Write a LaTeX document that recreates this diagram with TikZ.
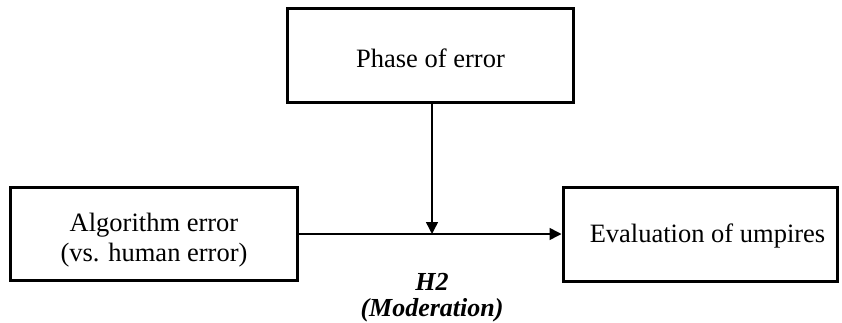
\documentclass[tikz,border=0pt]{standalone}
\usepackage{fontspec}
\setmainfont{Liberation Serif}
\usetikzlibrary{arrows.meta}
\newcommand{\nudge}[2]{\raisebox{-#1}[\height][\depth]{\begin{tabular}{@{}c@{}}#2\end{tabular}}}
\begin{document}
\begin{tikzpicture}[x=1pt,y=-1pt,
  varbox/.style={draw,line width=3pt,inner sep=0pt,align=center,
    font=\fontsize{26.5}{30}\selectfont},
  conn/.style={line width=1.5pt,-{Triangle[length=12pt,width=12pt]}},
  hyp/.style={font=\fontsize{26}{28}\selectfont\bfseries\itshape,inner sep=0pt}]
\useasboundingbox (0,0) rectangle (842,323);
\node[varbox,minimum width=286pt,minimum height=94pt] (phase) at (430.5,56) {\nudge{6pt}{Phase of error}};
\node[varbox,minimum width=287pt,minimum height=93pt] (alg) at (154,233.5) {\nudge{7pt}{Algorithm error\\(vs. human error)}};
\node[varbox,minimum width=274pt,minimum height=94pt] (eval) at (700,234) {\nudge{2pt}{\hspace*{15pt}Evaluation of umpires}};
\coordinate (mid) at (432,234);
\draw[conn] (alg.east |- mid) -- (eval.west |- mid);
\draw[conn] (mid |- phase.south) -- (mid);
\node[hyp] (h2) at (432,282) {H2};
\node[hyp] (mod) at (432,310) {(Moderation)};
\end{tikzpicture}
\end{document}
